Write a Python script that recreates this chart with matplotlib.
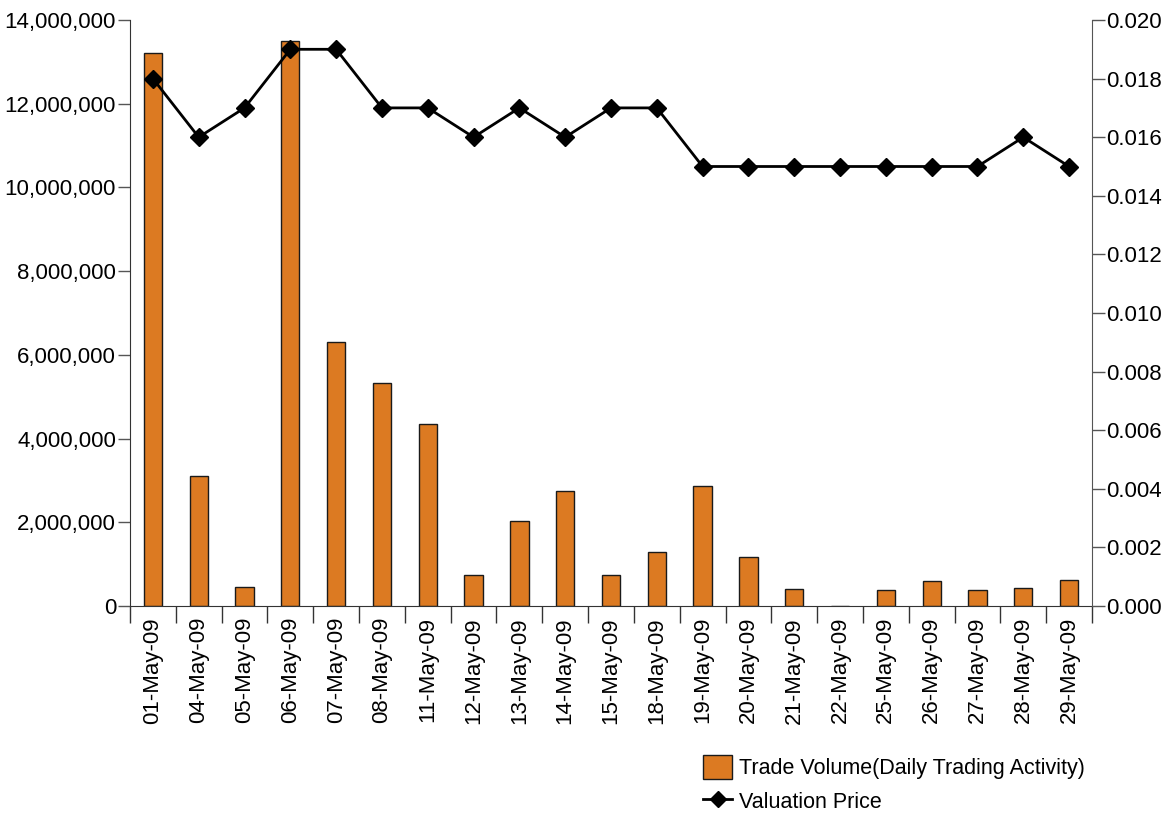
import matplotlib.pyplot as plt
import numpy as np
from matplotlib.ticker import FuncFormatter, FixedLocator

plt.rcParams['font.family'] = ['Liberation Sans', 'DejaVu Sans']

dates = ['01-May-09', '04-May-09', '05-May-09', '06-May-09', '07-May-09', '08-May-09',
         '11-May-09', '12-May-09', '13-May-09', '14-May-09', '15-May-09', '18-May-09',
         '19-May-09', '20-May-09', '21-May-09', '22-May-09', '25-May-09', '26-May-09',
         '27-May-09', '28-May-09', '29-May-09']
volume = [13200000, 3100000, 460000, 13500000, 6300000, 5330000,
          4340000, 730000, 2040000, 2740000, 730000, 1290000,
          2870000, 1160000, 410000, 0, 390000, 600000,
          380000, 420000, 620000]
price = [0.018, 0.016, 0.017, 0.019, 0.019, 0.017,
         0.017, 0.016, 0.017, 0.016, 0.017, 0.017,
         0.015, 0.015, 0.015, 0.015, 0.015, 0.015,
         0.015, 0.016, 0.015]

fig = plt.figure(figsize=(11.66, 8.15), dpi=100)
ax = fig.add_axes([130 / 1166, 1 - 606 / 815, (1092 - 130) / 1166, (606 - 20) / 815])
ax2 = ax.twinx()

x = np.arange(len(dates))
bars = ax.bar(x, volume, width=0.4, color='#DC7A22', edgecolor='#1a1a1a', linewidth=1,
              label='Trade Volume(Daily Trading Activity)')
line, = ax2.plot(x, price, color='black', linewidth=2, marker='D', markersize=9.5,
                 label='Valuation Price')

ax.set_xlim(-0.5, len(dates) - 0.5)
ax.set_ylim(0, 14000000)
ax2.set_ylim(0, 0.02)
ax.set_yticks(np.arange(0, 14000001, 2000000))
ax.yaxis.set_major_formatter(FuncFormatter(lambda v, p: f'{int(v):,}'))
ax2.set_yticks(np.arange(0, 0.0201, 0.002))
ax2.yaxis.set_major_formatter(FuncFormatter(lambda v, p: f'{v:.3f}'))

ax.set_xticks(x)
ax.set_xticklabels(dates, rotation=90)
ax.xaxis.set_minor_locator(FixedLocator(np.arange(-0.5, len(dates), 1.0)))
ax.tick_params(axis='x', which='major', length=0, pad=8, labelsize=16)
ax.tick_params(axis='x', which='minor', length=12, width=1, color='#333333')
ax.tick_params(axis='y', length=9, width=1, color='#555555', labelsize=16, pad=1)
ax2.tick_params(axis='y', length=9, width=1, color='#555555', labelsize=16, pad=1)

for a in (ax, ax2):
    a.spines['top'].set_visible(False)
ax.spines['right'].set_visible(False)
ax2.spines['left'].set_visible(False)
ax2.spines['bottom'].set_visible(False)
ax2.spines['right'].set_color('#555555')
ax.spines['left'].set_color('#333333')
ax.spines['bottom'].set_color('#333333')

fig.legend([bars, line], ['Trade Volume(Daily Trading Activity)', 'Valuation Price'],
           loc='upper left', bbox_to_anchor=(703 / 1166, 1 - 755 / 815), frameon=False,
           fontsize=15.5, handlelength=1.35, handleheight=1.35, handletextpad=0.3,
           labelspacing=0.45, borderpad=0, borderaxespad=0, markerscale=0.85)

plt.savefig('out.png', dpi=100)
